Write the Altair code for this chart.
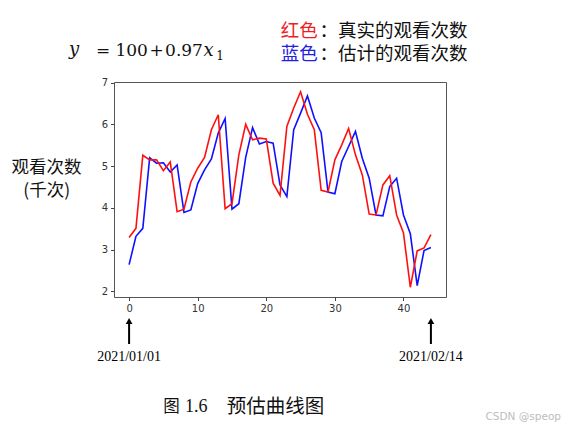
import altair as alt
import pandas as pd

# ---- data ----
days = list(range(45))
real_views = [3.29, 3.51, 5.26, 5.15, 5.15, 4.89, 5.10, 3.91, 3.97, 4.62,
              4.95, 5.21, 5.87, 6.23, 3.98, 4.10, 5.27, 6.00, 5.63, 5.67,
              5.65, 4.59, 4.30, 5.95, 6.39, 6.78, 6.24, 5.87, 4.42, 4.38,
              5.15, 5.51, 5.90, 5.27, 4.79, 3.85, 3.83, 4.55, 4.77, 3.83,
              3.40, 2.10, 2.97, 3.04, 3.36]
est_views = [2.64, 3.32, 3.51, 5.20, 5.07, 5.08, 4.86, 5.03, 3.89, 3.95,
             4.58, 4.91, 5.17, 5.79, 6.14, 3.97, 4.10, 5.21, 5.92, 5.53,
             5.59, 5.55, 4.55, 4.27, 5.87, 6.27, 6.68, 6.15, 5.80, 4.38,
             4.34, 5.11, 5.47, 5.83, 5.19, 4.71, 3.83, 3.81, 4.51, 4.71,
             3.83, 3.38, 2.14, 2.98, 3.05]
x_ticks = [0, 10, 20, 30, 40]
y_ticks = [2, 3, 4, 5, 6, 7]
end_dates = ["2021/01/01", "2021/02/14"]

df = pd.DataFrame({"day": days, "real": real_views, "est": est_views})
ends = pd.DataFrame({"day": [days[0], days[-1]], "label": end_dates})
one = pd.DataFrame({"k": [0]})

X = alt.X("day:Q", scale=alt.Scale(domain=[-2.2, 46.2], nice=False, zero=False),
          axis=alt.Axis(values=x_ticks, title=None, grid=False, domain=False,
                        tickSize=3.5, tickColor="#444", labelColor="#333",
                        labelFont="DejaVu Sans", labelFontSize=10, labelPadding=3))
YSCALE = alt.Scale(domain=[1.866, 7.014], nice=False, zero=False)

base = alt.Chart(df)
blue = base.mark_line(color="#1010ff", strokeWidth=1.6).encode(
    x=X,
    y=alt.Y("est:Q", scale=YSCALE,
            axis=alt.Axis(values=y_ticks, title=None, grid=False, domain=False,
                          tickSize=3.5, tickColor="#444", labelColor="#333",
                          labelFont="DejaVu Sans", labelFontSize=10, labelPadding=3)))
red = base.mark_line(color="#ff1010", strokeWidth=1.6).encode(
    x=X, y=alt.Y("real:Q", scale=YSCALE))


def txt(s, x, y, size, color="#111", font="Noto Sans CJK SC", align="left",
        style="normal", weight="normal"):
    return alt.Chart(one).mark_text(
        text=s, align=align, baseline="middle", fontSize=size, font=font,
        color=color, fontStyle=style, fontWeight=weight
    ).encode(x=alt.value(x), y=alt.value(y))


serif = "Liberation Serif"
math = "DejaVu Serif"
texts = [
    # legend
    txt("红色", 166.7, -51.5, 18.5, color="#ee1c25"),
    txt("：真实的观看次数", 205.5, -51.5, 18.5),
    txt("蓝色", 166.7, -28, 18.5, color="#2222dd"),
    txt("：估计的观看次数", 205.5, -28, 18.5),
    # formula
    txt("y", -40, -32, 18, font=math, align="center", style="italic"),
    txt("=", -11, -31, 17, font=math, align="center"),
    txt("100", 17.7, -31, 17, font=math, align="center"),
    txt("+", 42.7, -31, 17, font=math, align="center"),
    txt("0.97", 70, -31, 17, font=math, align="center"),
    txt("x", 94.5, -31.5, 18, font=math, align="center", style="italic"),
    txt("1", 106, -26, 12, font=math, align="center"),
    # y label
    txt("观看次数", -67.5, 86, 17.5, align="center"),
    txt("(千次)", -67.3, 109, 17.5, align="center"),
    # caption
    txt("图", 49.3, 324.5, 16.5),
    txt("1.6", 71, 324.5, 18, font=serif),
    txt("预估曲线图", 112.7, 324.5, 19.5),
    # watermark
    txt("CSDN @speop", 447, 335, 10.5, color="#bdbdbd", font="DejaVu Sans",
        align="right"),
]

Xn = alt.X("day:Q", scale=alt.Scale(domain=[-2.2, 46.2], nice=False, zero=False))
shafts = alt.Chart(ends).mark_rule(color="#000", strokeWidth=2).encode(
    x=Xn, y=alt.value(241), y2=alt.value(262))
heads = alt.Chart(ends).mark_point(shape="triangle-up", filled=True, size=45,
                                   color="#000", opacity=1).encode(
    x=Xn, y=alt.value(239))
dates = alt.Chart(ends).mark_text(font=serif, fontSize=14, color="#000",
                                  baseline="middle", align="center").encode(
    x=Xn, y=alt.value(275), text="label:N")

chart = alt.layer(blue, red, shafts, heads, dates, *texts).properties(
    width=332, height=215,
    autosize=alt.AutoSizeParams(type="none"),
    padding={"left": 106, "top": 74, "right": 117, "bottom": 126},
    background="white",
).configure_view(stroke="#555", strokeWidth=1)

chart.save("out.html", embed_options={"renderer": "svg", "actions": False})
